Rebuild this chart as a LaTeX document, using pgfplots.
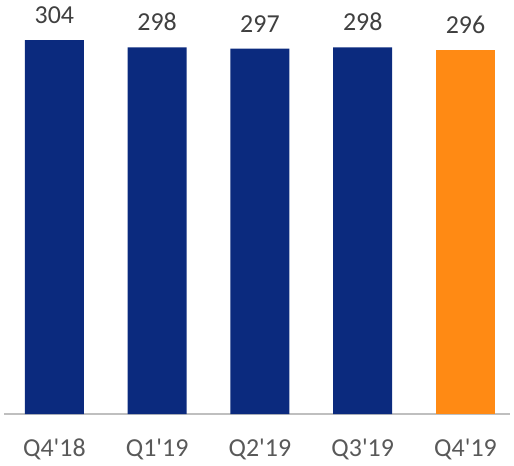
\documentclass[border=0pt]{standalone}
\usepackage{fontspec}
\newfontfamily\carlito{Carlito}
\usepackage{pgfplots}
\pgfplotsset{compat=1.18}
\definecolor{barblue}{HTML}{0B2A7E}
\definecolor{barorange}{HTML}{FF8A14}
\definecolor{axisgray}{HTML}{BFBFBF}
\definecolor{ticktext}{HTML}{595959}
\definecolor{valtext}{HTML}{404040}
\begin{document}
\begin{tikzpicture}
\begin{axis}[
  at={(4bp,52bp)}, anchor=south west,
  scale only axis,
  width=506bp, height=414bp,
  xmin=-0.49, xmax=4.433,
  ymin=0, ymax=336.6,
  axis x line=bottom,
  axis y line=none,
  axis line style={axisgray, line width=1.5bp, -},
  x axis line style={-},
  xtick={0,1,2,3,4},
  xticklabels={Q4'18,Q1'19,Q2'19,Q3'19,Q4'19},
  major tick length=0pt,
  xticklabel style={font=\carlito\fontsize{26}{28}\selectfont, text=ticktext, yshift=-24bp, inner sep=1bp},
  ybar, bar width=0.574, bar shift=0pt,
  clip=false,
  nodes near coords,
  /pgf/number format/assume math mode=true,
  every node near coord/.append style={font=\carlito\fontsize{26}{28}\selectfont, text=valtext, yshift=13bp},
]
\addplot[fill=barblue, draw=none] coordinates {(0,304) (1,298) (2,297) (3,298)};
\addplot[fill=barorange, draw=none] coordinates {(4,296)};
\end{axis}
\pgfresetboundingbox
\path[use as bounding box] (0,0) rectangle (514bp,466bp);
\end{tikzpicture}
\end{document}
